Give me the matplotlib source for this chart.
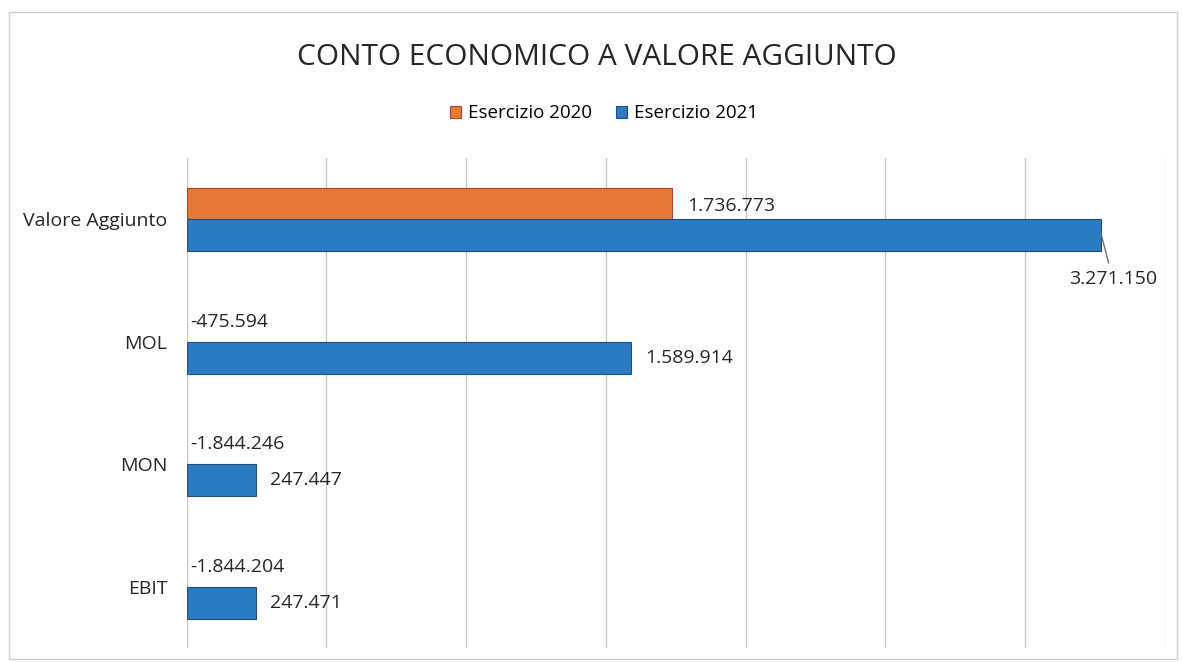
import numpy as np
import matplotlib.pyplot as plt
from matplotlib.patches import Rectangle

# dati
categorie = ["Valore Aggiunto", "MOL", "MON", "EBIT"]
esercizio_2020 = [1736773, -475594, -1844246, -1844204]
esercizio_2021 = [3271150, 1589914, 247447, 247471]
serie = ["Esercizio 2020", "Esercizio 2021"]

plt.rcParams['font.family'] = ['Open Sans', 'DejaVu Sans']

col_2020 = '#E57A36'
col_2021 = '#2B7BC3'
testo = '#262626'
fs = 14


def fmt(v):
    return f"{v:,}".replace(",", ".")


fig = plt.figure(figsize=(11.82, 6.62), dpi=100)
ax = fig.add_axes([0.158, 0.0211, 0.8274, 0.740])

y = np.arange(len(categorie))
h = 0.26
b1 = ax.barh(y - h / 2, esercizio_2020, height=h, color=col_2020,
             edgecolor='#B0452A', linewidth=0.8, label=serie[0], zorder=3)
b2 = ax.barh(y + h / 2, esercizio_2021, height=h, color=col_2021,
             edgecolor='#1F4E82', linewidth=0.8, label=serie[1], zorder=3)
# le barre negative restano fuori dall'asse (minimo a 0)
for p, v in zip(b1.patches, esercizio_2020):
    if v < 0:
        p.set_visible(False)

ax.set_xlim(0, 3500000)
ax.set_ylim(len(categorie) - 0.5, -0.5)
ax.set_xticks(np.arange(0, 3500001, 500000))
ax.set_xticklabels([])
ax.tick_params(axis='both', length=0)
ax.grid(axis='x', color='#C8C8C8', linewidth=1, zorder=0)
for s in ax.spines.values():
    s.set_visible(False)
ax.set_yticks(y)
ax.set_yticklabels(categorie, fontsize=fs, color=testo)
ax.tick_params(axis='y', pad=14)

# etichette 2020
for i, v in enumerate(esercizio_2020):
    if v >= 0:
        ax.annotate(fmt(v), (v, y[i] - h / 2), xytext=(15, -3), textcoords='offset pixels',
                    ha='left', va='center', fontsize=fs, color=testo)
    else:
        ax.annotate(fmt(v), (0, y[i] - h / 2), xytext=(3, 4), textcoords='offset pixels',
                    ha='left', va='center', fontsize=fs, color=testo)

# etichette 2021
for i, v in enumerate(esercizio_2021):
    if i == 0:
        ax.annotate(fmt(v), (v, y[i] + h / 2 - 0.02), xytext=(12, -46), textcoords='offset pixels',
                    ha='center', va='center', fontsize=fs, color=testo,
                    arrowprops=dict(arrowstyle='-', color='#707070', lw=1,
                                    shrinkA=3, shrinkB=0))
    else:
        ax.annotate(fmt(v), (v, y[i] + h / 2), xytext=(14, 0), textcoords='offset pixels',
                    ha='left', va='center', fontsize=fs, color=testo)

fig.text(0.505, 0.913, "CONTO ECONOMICO A VALORE AGGIUNTO", ha='center', va='center',
         fontsize=21.4, color=testo)
fig.legend(handles=[b1, b2], labels=serie, loc='center', bbox_to_anchor=(0.511, 0.829),
           ncol=2, frameon=False, fontsize=13.5, handlelength=0.6, handleheight=0.6,
           handletextpad=0.35, columnspacing=1.3)

fig.patches.append(Rectangle((0.008, 0.004), 0.988, 0.978, transform=fig.transFigure,
                             fill=False, edgecolor='#D0D0D0', linewidth=1))

fig.savefig('out.png', dpi=100, facecolor='white')
